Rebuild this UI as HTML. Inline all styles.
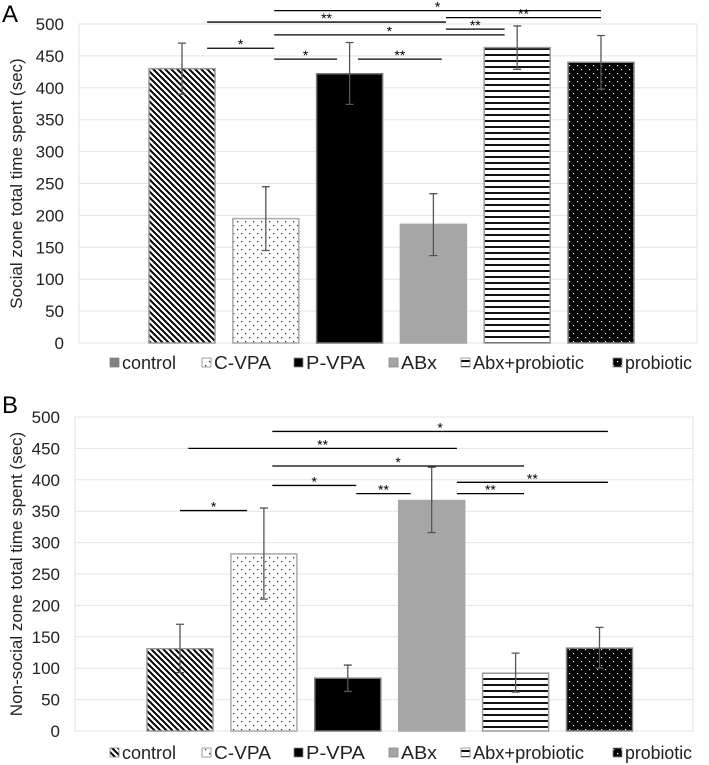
<!DOCTYPE html>
<html><head><meta charset="utf-8"><style>
html,body{margin:0;padding:0;background:#fff;}
svg{display:block;font-family:"Liberation Sans",Arial,sans-serif;}
</style></head><body>
<svg id="chart" width="709" height="765" viewBox="0 0 709 765" xmlns="http://www.w3.org/2000/svg">
<defs>
<pattern id="pDiag" patternUnits="userSpaceOnUse" width="6" height="6">
<rect width="6" height="6" fill="#fff"/>
<path d="M-1,-1 L7,7 M-4,2 L2,8 M2,-4 L8,2" stroke="#000" stroke-width="2"/>
</pattern>
<pattern id="pDots" patternUnits="userSpaceOnUse" width="8" height="8">
<rect width="8" height="8" fill="#fff"/>
<rect x="1" y="1" width="1.3" height="1.3" fill="#333"/>
<rect x="5" y="5" width="1.3" height="1.3" fill="#333"/>
</pattern>
<pattern id="pHoriz" patternUnits="userSpaceOnUse" width="6" height="6">
<rect width="6" height="6" fill="#fff"/>
<rect y="0" width="6" height="2" fill="#111"/>
</pattern>
<pattern id="pBlackDots" patternUnits="userSpaceOnUse" width="8" height="8">
<rect width="8" height="8" fill="#000"/>
<rect x="1" y="1" width="1.2" height="1.2" fill="#fff"/>
<rect x="5" y="5" width="1.2" height="1.2" fill="#fff"/>
</pattern>
</defs>
</svg>
<script>
const categories = ["control","C-VPA","P-VPA","ABx","Abx+probiotic","probiotic"];
const valuesA = [430,195,422,186,463,440];
const errLowA = [390,145,374,137,429,398];
const errHighA = [470,245,471,234,497,482];
const valuesB = [131,282,84,367,92,132];
const errLowB = [93,210,63,316,62,100];
const errHighB = [170,355,105,420,124,165];
const ticks = [0,50,100,150,200,250,300,350,400,450,500];
// significance brackets: [fromCategory, toCategory, level value, label]
const sigA = [[1.1,5,521,"*"],[0.3,3.15,503,"**"],[3.15,5,510,"**"],[3.15,3.85,492,"**"],[1.1,3.85,483,"*"],[0.3,1.1,462,"*"],[1.1,1.85,445,"*"],[2.1,3.1,445,"**"]];
const sigB = [[1.1,5.1,477,"*"],[0.1,3.3,450,"**"],[1.1,4.1,422,"*"],[3.3,5.1,396,"**"],[1.1,2.1,391,"*"],[2.1,2.75,378,"**"],[3.3,4.1,378,"**"],[0,0.8,351,"*"]];
const fills = ["url(#pDiag)","url(#pDots)","#000","#a6a6a6","url(#pHoriz)","url(#pBlackDots)"];
const strokes = ["#999","#aaa","#777","#a6a6a6","#999","#888"];

const svg = document.getElementById('chart');
const NS = "http://www.w3.org/2000/svg";
function mk(tag, attrs, parent){const e=document.createElementNS(NS,tag);for(const k in attrs)e.setAttribute(k,attrs[k]);(parent||svg).appendChild(e);return e;}

function panel(cfg){
  const g = mk('g',{});
  
  
  const y = v => cfg.y0 - (v/500)*(cfg.y0-cfg.y500);
  const xc = i => cfg.xc0 + i*cfg.pitch;
  const fr = mk('rect',{x:cfg.left,y:cfg.y500,width:cfg.right-cfg.left,height:cfg.y0-cfg.y500,fill:'none',stroke:'#e0e0e0','stroke-width':1},g);
  
  
  ticks.forEach(t=>{
    const gl = mk('line',{x1:cfg.left,x2:cfg.right,y1:y(t),y2:y(t),stroke:'#e3e3e3','stroke-width':1},g);
    
    
    const tl = mk('text',{x:cfg.left-15,y:y(t)+6,'text-anchor':'end','font-size':17,fill:'#222'},g);
    tl.textContent = t;
    
    
  });
  const bw = 66;
  categories.forEach((c,i)=>{
    const b = mk('rect',{x:xc(i)-bw/2,y:y(cfg.vals[i]),width:bw,height:y(0)-y(cfg.vals[i]),fill:fills[i],stroke:strokes[i],'stroke-width':1.5},g);
    
    
    const e = mk('path',{d:`M${xc(i)},${y(cfg.lo[i])}V${y(cfg.hi[i])}M${xc(i)-4},${y(cfg.lo[i])}H${xc(i)+4}M${xc(i)-4},${y(cfg.hi[i])}H${xc(i)+4}`,stroke:'#555','stroke-width':1.3,fill:'none'},g);
    
    
  });
  cfg.sig.forEach(s=>{
    const x1=xc(s[0]), x2=xc(s[1]), yy=y(s[2]);
    const l = mk('line',{x1:x1,x2:x2,y1:yy,y2:yy,stroke:'#000','stroke-width':1.3},g);
    
    
    const t = mk('text',{x:(x1+x2)/2,y:yy+1,'text-anchor':'middle','font-size':14,fill:'#000'},g);
    t.textContent = s[3];
    
    
  });
  const at = mk('text',{transform:`translate(${cfg.titleX},${(cfg.y0+cfg.y500)/2}) rotate(-90)`,'text-anchor':'middle','font-size':17,fill:'#222'},g);
  at.textContent = cfg.title;
  
  
  const pl = mk('text',{x:cfg.labelX,y:cfg.labelY,'font-size':24,fill:'#000'},g);
  pl.textContent = cfg.letter;
  
  
  const lx = [110,202,294,389,461,613];
  const lw = [54,57,59,36,111,67];
  categories.forEach((c,i)=>{
    const sw = mk('rect',{x:lx[i],y:cfg.legY-11,width:9,height:9,fill:cfg.legendFills[i],stroke:'#888','stroke-width':0.8},g);
    
    
    const lt = mk('text',{x:lx[i]+12,y:cfg.legY,'font-size':18,fill:'#222',textLength:lw[i],lengthAdjust:'spacingAndGlyphs'},g);
    lt.textContent = c;
    
    
  });
}
panel({name:'panel-a-chart',letter:'A',labelX:2,labelY:22,title:'Social zone total time spent (sec)',titleX:22,
  y0:343,y500:24,left:79,right:697,xc0:182,pitch:83.8,vals:valuesA,lo:errLowA,hi:errHighA,sig:sigA,legY:369,
  legendFills:['#808080','url(#pDots)','#000','#a6a6a6','url(#pHoriz)','url(#pBlackDots)']});
panel({name:'panel-b-chart',letter:'B',labelX:2,labelY:413,title:'Non-social zone total time spent (sec)',titleX:22,
  y0:731,y500:417,left:75,right:693,xc0:180,pitch:83.9,vals:valuesB,lo:errLowB,hi:errHighB,sig:sigB,legY:759,
  legendFills:['url(#pDiag)','url(#pDots)','#000','#a6a6a6','url(#pHoriz)','url(#pBlackDots)']});
</script>
</body></html>
